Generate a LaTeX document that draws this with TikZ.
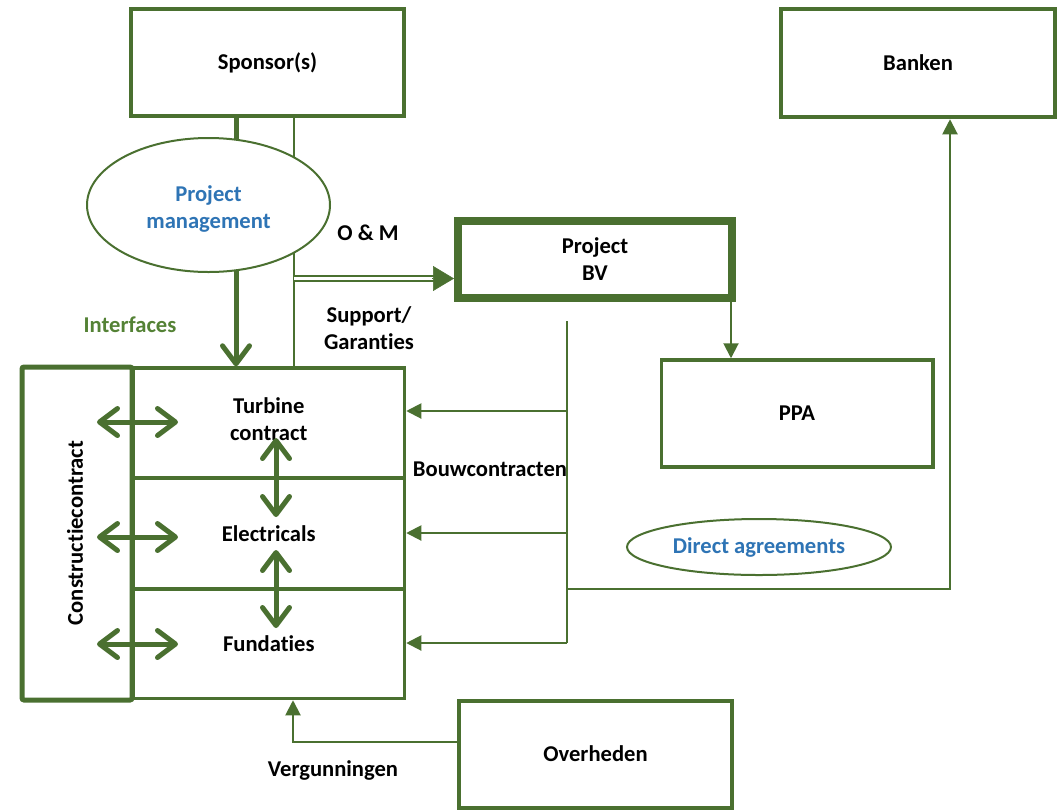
\documentclass[tikz,border=0pt]{standalone}
\usepackage{fontspec}
\setmainfont{Carlito}[Ligatures={NoCommon}]
\usetikzlibrary{arrows.meta,shapes.geometric,calc}
\definecolor{lgreen}{RGB}{74,112,48}
\definecolor{tgreen}{RGB}{84,130,53}
\definecolor{tblue}{RGB}{46,116,181}
\begin{document}
\begin{tikzpicture}[x=1pt,y=-1pt,
  font=\fontsize{22.6}{27}\selectfont\bfseries,
  box/.style={draw=lgreen, line width=4pt, rectangle, inner sep=0pt, align=center},
  stackbox/.style={box, line width=3.5pt},
  ovalbox/.style={draw=lgreen, line width=2pt, ellipse, fill=white, inner sep=0pt, align=center, text=tblue},
  lbl/.style={inner sep=0pt, align=center},
  thinline/.style={draw=lgreen, line width=2pt},
  arr/.style={thinline, -{Triangle[length=15pt,width=15pt]}},
  bigarr/.style={draw=lgreen, line width=5pt, -{Straight Barb[length=18pt,width=27pt,round]}},
  dblarr/.style={draw=lgreen, line width=5pt, {Straight Barb[length=18pt,width=27pt,round]}-{Straight Barb[length=18pt,width=27pt,round]}},
  dline/.style={draw=lgreen, double=white, line width=1.7pt, double distance=3pt},
  bigtip/.style={draw=lgreen, fill=lgreen, line width=0.5pt, -{Triangle[length=21pt,width=25pt]}}
]
\useasboundingbox (0,0) rectangle (1059,809);

% boxes
\node[box, minimum width=273pt, minimum height=107pt] (sponsor) at (267.5,62.5) {Sponsor(s)};
\node[box, minimum width=273.5pt, minimum height=108.5pt] (banken) at (918,63) {Banken};
\node[box, line width=8pt, minimum width=274pt, minimum height=77pt] (bv) at (595,259.5) {Project\\BV};
\node[stackbox, minimum width=271.5pt, minimum height=107pt] (ppa) at (797,413.5) {PPA};
\node[box, minimum width=273pt, minimum height=107pt] (overheden) at (595.5,754) {Overheden};

\node[stackbox, minimum width=271.5pt, minimum height=110pt] (turbine) at (268.75,423)
  {\raisebox{-4pt}[0pt][0pt]{\begin{tabular}{@{}c@{}}Turbine\\contract\end{tabular}}};
\node[stackbox, minimum width=271.5pt, minimum height=111pt] (electricals) at (268.75,533.5) {Electricals};
\node[stackbox, minimum width=271.5pt, minimum height=109.5pt] (fundaties) at (268.75,643.75) {Fundaties};
\node[box, line width=5pt, rounded corners=2pt, minimum width=110pt, minimum height=333pt] (constructie) at (77,533.5) {};
\node[lbl, rotate=90] (ctext) at (75,533) {Constructiecontract};

% labels
\node[lbl] (lom) at (368,233) {O \& M};
\node[lbl] (lsup) at (369,328) {Support/\\Garanties};
\node[lbl, text=tgreen] (lint) at (130,325) {Interfaces};
\node[lbl] (lbouw) at (490,469) {Bouwcontracten};
\node[lbl] (lverg) at (333,770) {Vergunningen};

% coordinates
\coordinate (xA) at (236,0);
\coordinate (xB) at (294,0);
\coordinate (om) at (294,278.5);
\coordinate (xP) at (731,0);
\coordinate (b0) at (567,321);
\coordinate (b1) at (567,411);
\coordinate (b2) at (567,533);
\coordinate (b3) at (567,643);
\coordinate (b4) at (567,589);
\coordinate (xK) at (950,0);
\coordinate (vg) at (293,742);

% sponsor connectors
\draw[bigarr] (sponsor.south -| xA) -- (turbine.north -| xA);
\draw[thinline] (sponsor.south -| xB) -- (turbine.north -| xB);
\draw[dline] (om) -- ($(bv.west |- om)+(-19,0)$);
\draw[bigtip] ($(bv.west |- om)+(-22,0)$) -- (bv.west |- om);

% project bv to ppa
\draw[arr] (bv.south -| xP) -- (ppa.north -| xP);

% bouwcontracten
\draw[thinline] (b0) -- (b3);
\draw[arr] (b1) -- (turbine.east |- b1);
\draw[arr] (b2) -- (electricals.east |- b2);
\draw[arr] (b3) -- (fundaties.east |- b3);
\draw[arr] (b4) -| (banken.south -| xK);

% vergunningen
\draw[arr] (overheden.west |- vg) -| (fundaties.south -| vg);

% interfaces
\coordinate (h1a) at (97,422);  \coordinate (h1b) at (178,422);
\coordinate (h2a) at (97,537);  \coordinate (h2b) at (178,537);
\coordinate (h3a) at (97,644);  \coordinate (h3b) at (178,644);
\coordinate (v1a) at (276,438); \coordinate (v1b) at (276,517);
\coordinate (v2a) at (276,550); \coordinate (v2b) at (276,628);
\draw[dblarr] (h1a) -- (h1b);
\draw[dblarr] (h2a) -- (h2b);
\draw[dblarr] (h3a) -- (h3b);
\draw[dblarr] (v1a) -- (v1b);
\draw[dblarr] (v2a) -- (v2b);

% ellipses
\node[ovalbox, minimum width=243pt, minimum height=134pt] (pm) at (208.5,205)
  {\raisebox{-9.5pt}[0pt][0pt]{\begin{tabular}{@{}c@{}}Project\\management\end{tabular}}};
\node[ovalbox, minimum width=264pt, minimum height=56pt] (da) at (759,547) {Direct agreements};
\end{tikzpicture}
\end{document}
